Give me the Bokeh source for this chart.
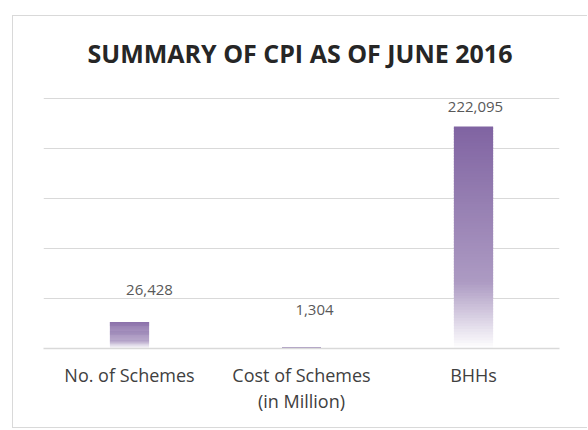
from bokeh.plotting import figure
from bokeh.models import ColumnDataSource, FixedTicker, Spacer, Label
from bokeh.layouts import column, row
from bokeh.core.properties import value
from bokeh.embed import file_html
from bokeh.resources import INLINE

# ---- data ----
categories = ["No. of Schemes", "Cost of Schemes\n(in Million)", "BHHs"]
values = [26428, 1304, 222095]
y_ticks = [0, 50000, 100000, 150000, 200000, 250000]
title_text = "SUMMARY OF CPI AS OF JUNE 2016"

# label placement (screen px), style only
label_dx = [20, 13, 2]
label_up = [32, 37, 19]

FONT = "Open Sans"
PURPLE = (128, 100, 162)
BORDER = "1px solid #d9d9d9"

def white_frac(t):
    # t: 0 at bar bottom, 1 at bar top
    if t >= 0.3:
        return 0.35 * (1 - t) / 0.7
    return 0.35 + 0.65 * (0.3 - t) / 0.3

def mix(t):
    w = white_frac(t)
    r, g, b = (int(round(c + (255 - c) * w)) for c in PURPLE)
    return "#%02x%02x%02x" % (r, g, b)

N = 80
sx, sb, st, sc = [], [], [], []
for cat, v in zip(categories, values):
    for k in range(N):
        sx.append(cat)
        sb.append(v * k / N)
        st.append(min(v, v * (k + 1.6) / N))
        sc.append(mix((k + 0.5) / N))
slices = ColumnDataSource(dict(x=sx, bottom=sb, top=st, color=sc))

W = 575

# ---- title strip ----
t = figure(width=W, height=82, x_range=(0, 1), y_range=(0, 1),
           output_backend="svg", toolbar_location=None, min_border=0,
           background_fill_color="white", border_fill_color="white",
           outline_line_color=None)
t.axis.visible = False
t.grid.grid_line_color = None
t.styles = {"border-left": BORDER, "border-top": BORDER}
t.add_layout(Label(
    x=0.497, y=0.55, text=title_text,
    text_align="center", text_baseline="middle",
    text_font=FONT, text_font_style="bold", text_font_size="25px",
    text_color="#262626",
))

# ---- chart ----
p = figure(
    x_range=categories, y_range=(0, 251000),
    width=W, height=331,
    output_backend="svg", toolbar_location=None,
    min_border_left=30, min_border_right=29,
    min_border_top=0, min_border_bottom=80,
    background_fill_color="white", border_fill_color="white",
    outline_line_color=None,
)
p.styles = {"border-left": BORDER, "border-bottom": BORDER}

p.vbar(x="x", bottom="bottom", top="top", width=0.228, source=slices,
       fill_color="color", line_color=None)

lab = ColumnDataSource(dict(
    x=categories, y=values, text=[f"{v:,}" for v in values],
    dx=label_dx, dy=[-u for u in label_up],
))
p.text(x="x", y="y", text="text", source=lab, x_offset="dx", y_offset="dy",
       text_align="center", text_baseline="middle",
       text_font=value(FONT), text_font_size="15px", text_color="#595959")

p.yaxis.visible = False
p.ygrid.ticker = FixedTicker(ticks=y_ticks)
p.ygrid.grid_line_color = "#d9d9d9"
p.ygrid.grid_line_width = 1.2
p.xgrid.grid_line_color = None

ax = p.xaxis[0]
ax.axis_line_color = "#d9d9d9"
ax.axis_line_width = 1.5
ax.major_tick_line_color = None
ax.minor_tick_line_color = None
ax.major_label_text_font = FONT
ax.major_label_text_font_size = "18px"
ax.major_label_text_color = "#404040"
ax.major_label_text_line_height = 1.1
ax.major_label_standoff = 8

p.x_range.range_padding = 0

layout = column(Spacer(height=15), row(Spacer(width=12), column(t, p)))
open("out.html", "w").write(file_html(layout, INLINE))
